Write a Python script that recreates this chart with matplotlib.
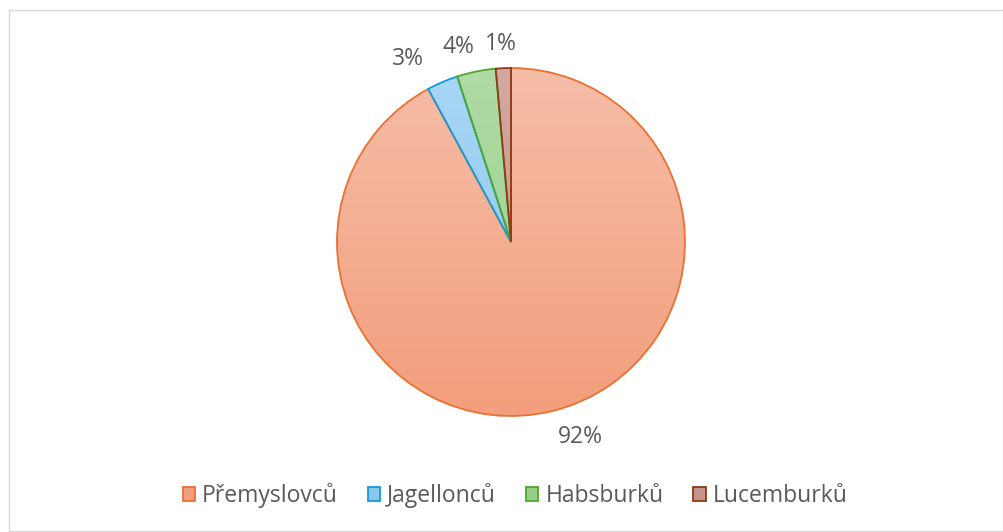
import numpy as np
import matplotlib.pyplot as plt
from matplotlib.colors import LinearSegmentedColormap
from matplotlib.patches import Rectangle

plt.rcParams['font.family'] = ['Open Sans', 'DejaVu Sans']

dynasties = ['Přemyslovců', 'Jagellonců', 'Habsburků', 'Lucemburků']
shares = [92.1, 2.9, 3.6, 1.4]
edge_cols = ['#E97132', '#0F9ED5', '#4EA72E', '#8E3A14']
fill_top = ['#F6BDA8', '#A8D6F5', '#B0DBA4', '#D2A8A2']
fill_bot = ['#F39E7C', '#8CC6EE', '#97CF88', '#C7948C']

fig = plt.figure(figsize=(10.04, 5.32), dpi=100)
fig.patches.append(Rectangle((0.009, 0.002), 0.99, 0.98, transform=fig.transFigure,
                             fill=False, edgecolor='#D9D9D9', linewidth=1))

r_px = 174
ax = fig.add_axes([(511 - r_px) / 1004, (290 - r_px) / 532, 2 * r_px / 1004, 2 * r_px / 532])
ax.set_xlim(-1, 1)
ax.set_ylim(-1, 1)
ax.axis('off')

wedges, texts, autotexts = ax.pie(shares, startangle=90, counterclock=False, radius=1,
                                  autopct='%1.0f%%', pctdistance=1.18,
                                  colors=fill_bot,
                                  wedgeprops=dict(linewidth=1.3),
                                  textprops=dict(fontsize=16.5, color='#595959'))

grad = np.linspace(0, 1, 256).reshape(-1, 1)
for w, ec, c0, c1 in zip(wedges, edge_cols, fill_top, fill_bot):
    cmap = LinearSegmentedColormap.from_list('g', [c0, c1])
    im = ax.imshow(grad, extent=(-1, 1, -1, 1), origin='upper', cmap=cmap,
                   aspect='auto', zorder=1)
    im.set_clip_path(w)
    w.set_facecolor('none')
    w.set_edgecolor(ec)
    w.set_zorder(2)

ax.set_xlim(-1, 1)
ax.set_ylim(-1, 1)

# small nudges to match label placement
autotexts[0].set_position((0.40, -1.12))
autotexts[1].set_position((-0.59, 1.05))
autotexts[2].set_position((-0.30, 1.12))
autotexts[3].set_position((-0.06, 1.14))

handles = [Rectangle((0, 0), 1, 1, facecolor=fb, edgecolor=ec, linewidth=1.3)
           for fb, ec in zip(fill_bot, edge_cols)]
fig.legend(handles, dynasties, loc='center', bbox_to_anchor=(0.513, 0.069), ncol=4,
           frameon=False, fontsize=16.5, handlelength=0.55, handleheight=0.55,
           handletextpad=0.3, columnspacing=1.3, labelcolor='#595959')

fig.savefig('out.png', dpi=100)
